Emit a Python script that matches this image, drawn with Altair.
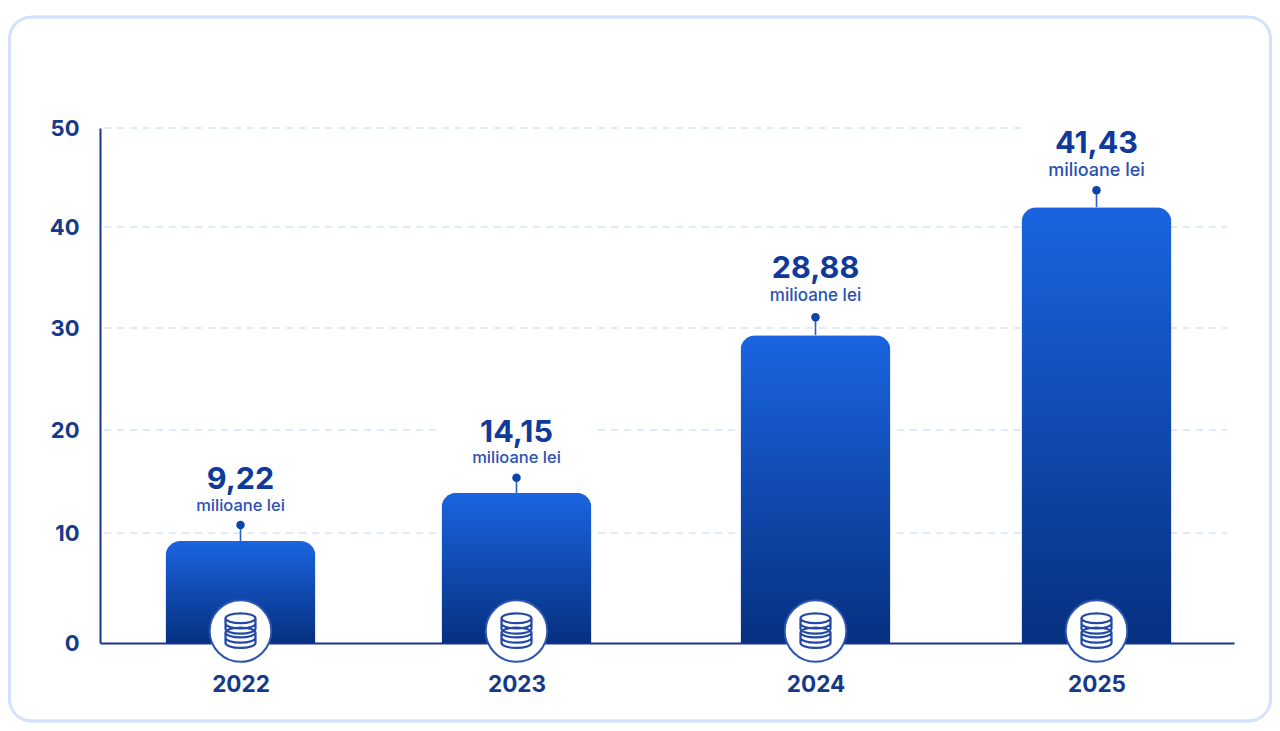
import altair as alt
import pandas as pd

# Values
years = [2022, 2023, 2024, 2025]
bar_heights = [9.27, 13.9, 29.3, 42.0]
value_labels = ["9,22", "14,15", "28,88", "41,43"]
unit_labels = ["milioane lei"] * 4
grid_values = [10, 20, 30, 40, 50]
grid_ends = [2025.97, 2025.97, 2025.97, 2025.97, 2024.735]

# Uneven spacing and tick intervals as they appear in the reference
x_domain = [2021.29, 2022, 2023, 2024, 2025, 2026]
x_range = [0, 140.5, 416.5, 715.5, 996.5, 1134]
y_domain = [0, 10, 20, 30, 40, 50]
y_range = [515, 405, 302, 200, 99, 0]

# Per-year label styling: value offset, unit offset, unit font size, dot offset
label_style = {
    2022: (-61, -35, 16.5, -16),
    2023: (-60, -35, 16.5, -15),
    2024: (-66, -39, 17, -18),
    2025: (-63, -36, 18, -17),
}

FONT = "Inter"
NAVY = "#17398a"
COIN_PATH = (
    "M-1,-0.85 A1,0.33 0 1 1 1,-0.85 A1,0.33 0 1 1 -1,-0.85 Z "
    "M-1,-0.85 L-1,-0.5 A1,0.33 0 0 0 1,-0.5 L1,-0.85 "
    "M-1,-0.5 L-1,-0.15 A1,0.33 0 0 0 1,-0.15 L1,-0.5 "
    "M-1,0.1 A1,0.33 0 1 1 1,0.1 A1,0.33 0 1 1 -1,0.1 Z "
    "M-1,0.1 L-1,0.45 A1,0.33 0 0 0 1,0.45 L1,0.1 "
    "M-1,0.45 L-1,0.8 A1,0.33 0 0 0 1,0.8 L1,0.45"
)

df = pd.DataFrame({"year": years, "bar": bar_heights, "value": value_labels, "unit": unit_labels})
grid_df = pd.DataFrame({"v": grid_values, "end": grid_ends, "start": [x_domain[0]] * 5})

x_scale = alt.Scale(domain=x_domain, range=x_range, nice=False, zero=False)
y_scale = alt.Scale(domain=y_domain, range=y_range, nice=False)
x = alt.X("year:Q", scale=x_scale, title=None,
          axis=alt.Axis(values=years, format="d", grid=False, ticks=False, domainColor="#1b3490",
                        domainWidth=2, labelFont=FONT, labelFontSize=22.5, labelFontWeight=700,
                        labelColor=NAVY, labelPadding=30, labelFlush=False, labelOverlap=False))
y = alt.Y("bar:Q", scale=y_scale, title=None,
          axis=alt.Axis(values=[0] + grid_values, grid=False, ticks=False, domainColor="#1b3490",
                        domainWidth=2, labelFont=FONT, labelFontSize=22, labelFontWeight=700,
                        labelColor=NAVY, labelPadding=21, labelAlign="right", labelOverlap=False))

base = alt.Chart(df)

card = base.mark_rect(fill="#ffffff", fillOpacity=0, stroke="#d5e2fb", strokeWidth=2.5, cornerRadius=22).encode(
    x=alt.value(-90.5), x2=alt.value(1170.5), y=alt.value(-111), y2=alt.value(593))

grid = alt.Chart(grid_df).mark_rule(color="#d5e3fb", strokeWidth=1.6, strokeDash=[7, 6]).encode(
    x=alt.X("start:Q", scale=x_scale), x2="end:Q", y=alt.Y("v:Q", scale=y_scale))

boxes = base.mark_bar(color="#ffffff", size=150, orient="vertical", yOffset=-80, y2Offset=-26).encode(
    x=x, y=y, y2="bar:Q")

gradient = alt.Gradient(gradient="linear", x1=0, x2=0, y1=0, y2=1,
                        stops=[alt.GradientStop(color="#1a64e0", offset=0),
                               alt.GradientStop(color="#063080", offset=1)])
bars = base.mark_bar(fill=gradient, size=150, orient="vertical",
                     cornerRadiusTopLeft=15, cornerRadiusTopRight=15).encode(x=x, y=y)

label_layers = []
for yr, (v_off, u_off, u_size, d_off) in label_style.items():
    row = base.transform_filter(alt.datum.year == yr)
    label_layers += [
        row.mark_rule(color="#2a5fc0", strokeWidth=1.6, yOffset=d_off, y2Offset=0).encode(x=x, y=y, y2="bar:Q"),
        row.mark_circle(color="#0c44ae", size=72, opacity=1, yOffset=d_off).encode(x=x, y=y),
        row.mark_text(font=FONT, fontSize=30.5, fontWeight=700, color="#0f3a9c", baseline="middle",
                      align="center", yOffset=v_off).encode(x=x, y=y, text="value:N"),
        row.mark_text(font=FONT, fontSize=u_size, fontWeight=500, color="#2b50b4", baseline="middle",
                      align="center", yOffset=u_off).encode(x=x, y=y, text="unit:N"),
    ]

circle = base.mark_point(shape="circle", filled=True, fill="#ffffff", fillOpacity=1, stroke="#2c55b2",
                         strokeWidth=2, size=3800, opacity=1, yOffset=-12).encode(
    x=x, y=alt.Y("z:Q", scale=y_scale)).transform_calculate(z="0")
coins = base.mark_point(shape=COIN_PATH, filled=False, stroke="#2348a8", strokeWidth=2.2, size=900, opacity=1,
                        yOffset=-12).encode(
    x=x, y=alt.Y("z:Q", scale=y_scale)).transform_calculate(z="0")

chart = alt.layer(card, grid, boxes, bars, *label_layers, circle, coins).properties(
    width=1134, height=515,
    padding={"left": 92, "top": 120, "right": 38, "bottom": 80},
    autosize=alt.AutoSizeParams(type="none"),
    background="#ffffff",
).configure_view(stroke=None)

chart.save("out.html", embed_options={"renderer": "svg", "actions": False})
